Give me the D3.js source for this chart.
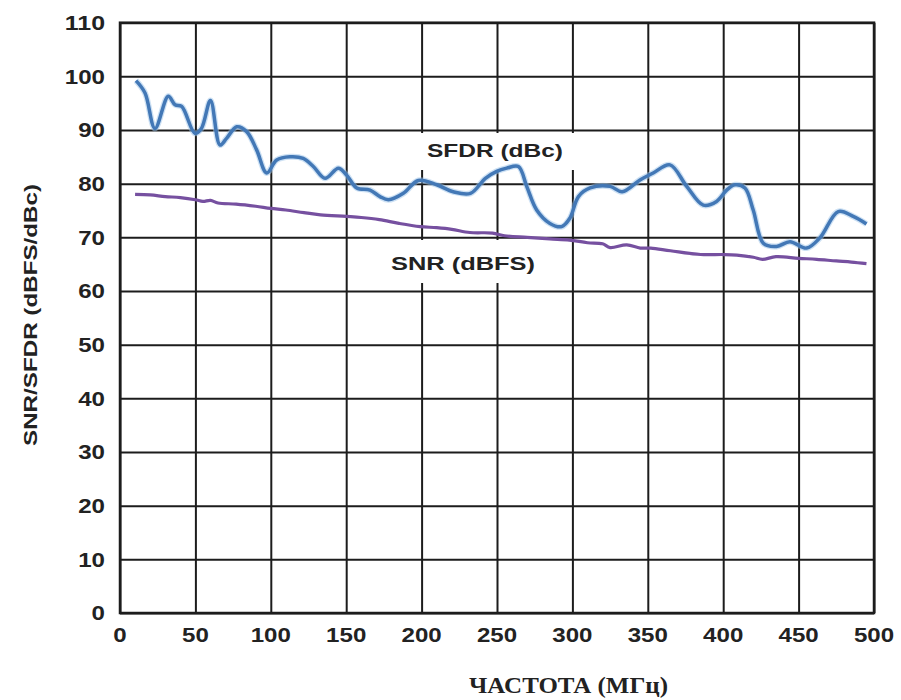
<!DOCTYPE html>
<html>
<head>
<meta charset="utf-8">
<script src="https://cdn.jsdelivr.net/npm/d3@7"></script>
<style>
  body { margin: 0; background: #fff; }
  text { font-family: Arial, "Liberation Sans", sans-serif; }
</style>
</head>
<body>
<script>
// frequency (MHz) and values
var sfdrFreq = [10.6, 16.6, 23.2, 32, 36.5, 40.9, 49.7, 54, 60, 66.3, 70.8, 77.4, 84, 90.6, 97.3, 103.9, 112.7, 121.5, 128.2, 136, 144.8, 150.3, 157, 165.8, 172.4, 178, 187.9, 197.8, 210, 221, 232.4, 242.3, 249.8, 256.4, 264.2, 269.7, 276.3, 285.1, 292.9, 298.4, 304, 311.7, 324.9, 333, 344.8, 353.6, 364.7, 375.8, 386.8, 395.6, 402.3, 407.8, 414.4, 419.9, 426.6, 435.4, 444.3, 455.3, 464.1, 476.3, 486.2, 495];
var sfdrVals = [99.2, 96.9, 90.3, 96.3, 94.7, 94.4, 89.4, 90.3, 95.5, 87.2, 88.5, 90.6, 89.7, 86.3, 82, 84.4, 85, 84.7, 83.2, 81, 82.9, 81.6, 79.2, 78.8, 77.6, 77, 78.2, 80.6, 79.8, 78.5, 78.2, 81, 82.3, 82.9, 83.2, 79.5, 75.1, 72.6, 72, 73.6, 77.6, 79.2, 79.5, 78.5, 80.7, 82, 83.5, 79.5, 76, 76.7, 78.8, 79.8, 79.2, 75.1, 68.9, 68.3, 69.2, 68, 69.9, 74.8, 73.9, 72.5];

var snrFreq = [10, 20, 30, 40, 50, 55, 60, 65, 77, 90, 100, 110, 122, 133, 150, 160, 172, 185, 199, 210, 220, 232, 247, 255, 270, 285, 298, 310, 320, 325, 336, 345, 352, 365, 385, 400, 409, 420, 426, 435, 450, 462, 475, 485, 495];
var snrVals = [78.0, 77.9, 77.6, 77.4, 77.0, 76.7, 76.9, 76.4, 76.2, 75.8, 75.4, 75.1, 74.6, 74.2, 73.9, 73.7, 73.3, 72.6, 72.0, 71.8, 71.5, 70.9, 70.8, 70.3, 70.0, 69.7, 69.5, 69.0, 68.8, 68.1, 68.6, 68.0, 68.0, 67.5, 66.8, 66.8, 66.7, 66.3, 65.9, 66.4, 66.1, 65.9, 65.6, 65.4, 65.1];

var xTicks = [0, 50, 100, 150, 200, 250, 300, 350, 400, 450, 500];
var yTicks = [0, 10, 20, 30, 40, 50, 60, 70, 80, 90, 100, 110];

var width = 901, height = 700;
var plot = { left: 120, right: 874, top: 22.7, bottom: 613 };

var svg = d3.select('body').append('svg')
    .attr('width', width)
    .attr('height', height);

var x = d3.scaleLinear().domain([0, 500]).range([plot.left, plot.right]);
var y = d3.scaleLinear().domain([0, 110]).range([plot.bottom, plot.top]);

// grid
svg.append('g')
    .attr('transform', 'translate(0,' + plot.bottom + ')')
    .call(d3.axisBottom(x).tickValues(xTicks).tickSize(-(plot.bottom - plot.top)).tickFormat(''))
    .call(function (g) { g.select('.domain').remove(); })
    .selectAll('line').attr('stroke', '#1c1c1c').attr('stroke-width', 2);

svg.append('g')
    .attr('transform', 'translate(' + plot.left + ',0)')
    .call(d3.axisLeft(y).tickValues(yTicks).tickSize(-(plot.right - plot.left)).tickFormat(''))
    .call(function (g) { g.select('.domain').remove(); })
    .selectAll('line').attr('stroke', '#1c1c1c').attr('stroke-width', 2);

svg.append('rect')
    .attr('x', plot.left).attr('y', plot.top)
    .attr('width', plot.right - plot.left).attr('height', plot.bottom - plot.top)
    .attr('fill', 'none').attr('stroke', '#1c1c1c').attr('stroke-width', 2.5);

// tick labels (the scan is a bit wide, so stretch the digits)
function labelWidth(d) { return String(d).length * 13.4; }

svg.append('g').selectAll('text')
    .data(yTicks).enter().append('text')
    .attr('x', 105)
    .attr('y', function (d) { return y(d); })
    .attr('dy', '0.36em')
    .attr('text-anchor', 'end')
    .attr('font-size', 20)
    .attr('font-weight', 'bold')
    .attr('fill', '#222')
    .attr('textLength', labelWidth)
    .attr('lengthAdjust', 'spacingAndGlyphs')
    .text(function (d) { return d; });

svg.append('g').selectAll('text')
    .data(xTicks).enter().append('text')
    .attr('x', function (d) { return x(d); })
    .attr('y', 642)
    .attr('text-anchor', 'middle')
    .attr('font-size', 20)
    .attr('font-weight', 'bold')
    .attr('fill', '#222')
    .attr('textLength', labelWidth)
    .attr('lengthAdjust', 'spacingAndGlyphs')
    .text(function (d) { return d; });

// axis titles
svg.append('text')
    .attr('transform', 'translate(37,315) rotate(-90)')
    .attr('text-anchor', 'middle')
    .attr('font-size', 19)
    .attr('font-weight', 'bold')
    .attr('fill', '#222')
    .attr('textLength', 262)
    .attr('lengthAdjust', 'spacingAndGlyphs')
    .text('SNR/SFDR (dBFS/dBc)');

svg.append('text')
    .attr('x', 469)
    .attr('y', 693)
    .attr('font-size', 23)
    .attr('font-weight', 'bold')
    .attr('fill', '#222')
    .attr('textLength', 199)
    .attr('lengthAdjust', 'spacingAndGlyphs')
    .style('font-family', '"Liberation Serif", "Times New Roman", serif')
    .text('ЧАСТОТА (МГц)');

// white boxes behind the series labels
svg.append('rect').attr('x', 418).attr('y', 133).attr('width', 158).attr('height', 37).attr('fill', '#fff');
svg.append('rect').attr('x', 380).attr('y', 240).attr('width', 160).attr('height', 43).attr('fill', '#fff');

var line = d3.line()
    .x(function (d) { return x(d[0]); })
    .y(function (d) { return y(d[1]); })
    .curve(d3.curveCatmullRom.alpha(0.5));

svg.append('path')
    .datum(d3.zip(snrFreq, snrVals))
    .attr('d', line)
    .attr('fill', 'none')
    .attr('stroke', '#7650a0')
    .attr('stroke-width', 3.2)
    .attr('stroke-linejoin', 'round');

svg.append('path')
    .datum(d3.zip(sfdrFreq, sfdrVals))
    .attr('d', line)
    .attr('fill', 'none')
    .attr('stroke', '#9cc4ea')
    .attr('stroke-opacity', 0.5)
    .attr('stroke-width', 6)
    .attr('stroke-linejoin', 'round');

svg.append('path')
    .datum(d3.zip(sfdrFreq, sfdrVals))
    .attr('d', line)
    .attr('fill', 'none')
    .attr('stroke', '#4378b6')
    .attr('stroke-width', 3.5)
    .attr('stroke-linejoin', 'round');

// series labels
svg.append('text')
    .attr('x', 427).attr('y', 157)
    .attr('font-size', 19).attr('font-weight', 'bold').attr('fill', '#222')
    .attr('textLength', 136).attr('lengthAdjust', 'spacingAndGlyphs')
    .text('SFDR (dBc)');

svg.append('text')
    .attr('x', 391).attr('y', 270)
    .attr('font-size', 19).attr('font-weight', 'bold').attr('fill', '#222')
    .attr('textLength', 144).attr('lengthAdjust', 'spacingAndGlyphs')
    .text('SNR (dBFS)');
</script>
</body>
</html>
